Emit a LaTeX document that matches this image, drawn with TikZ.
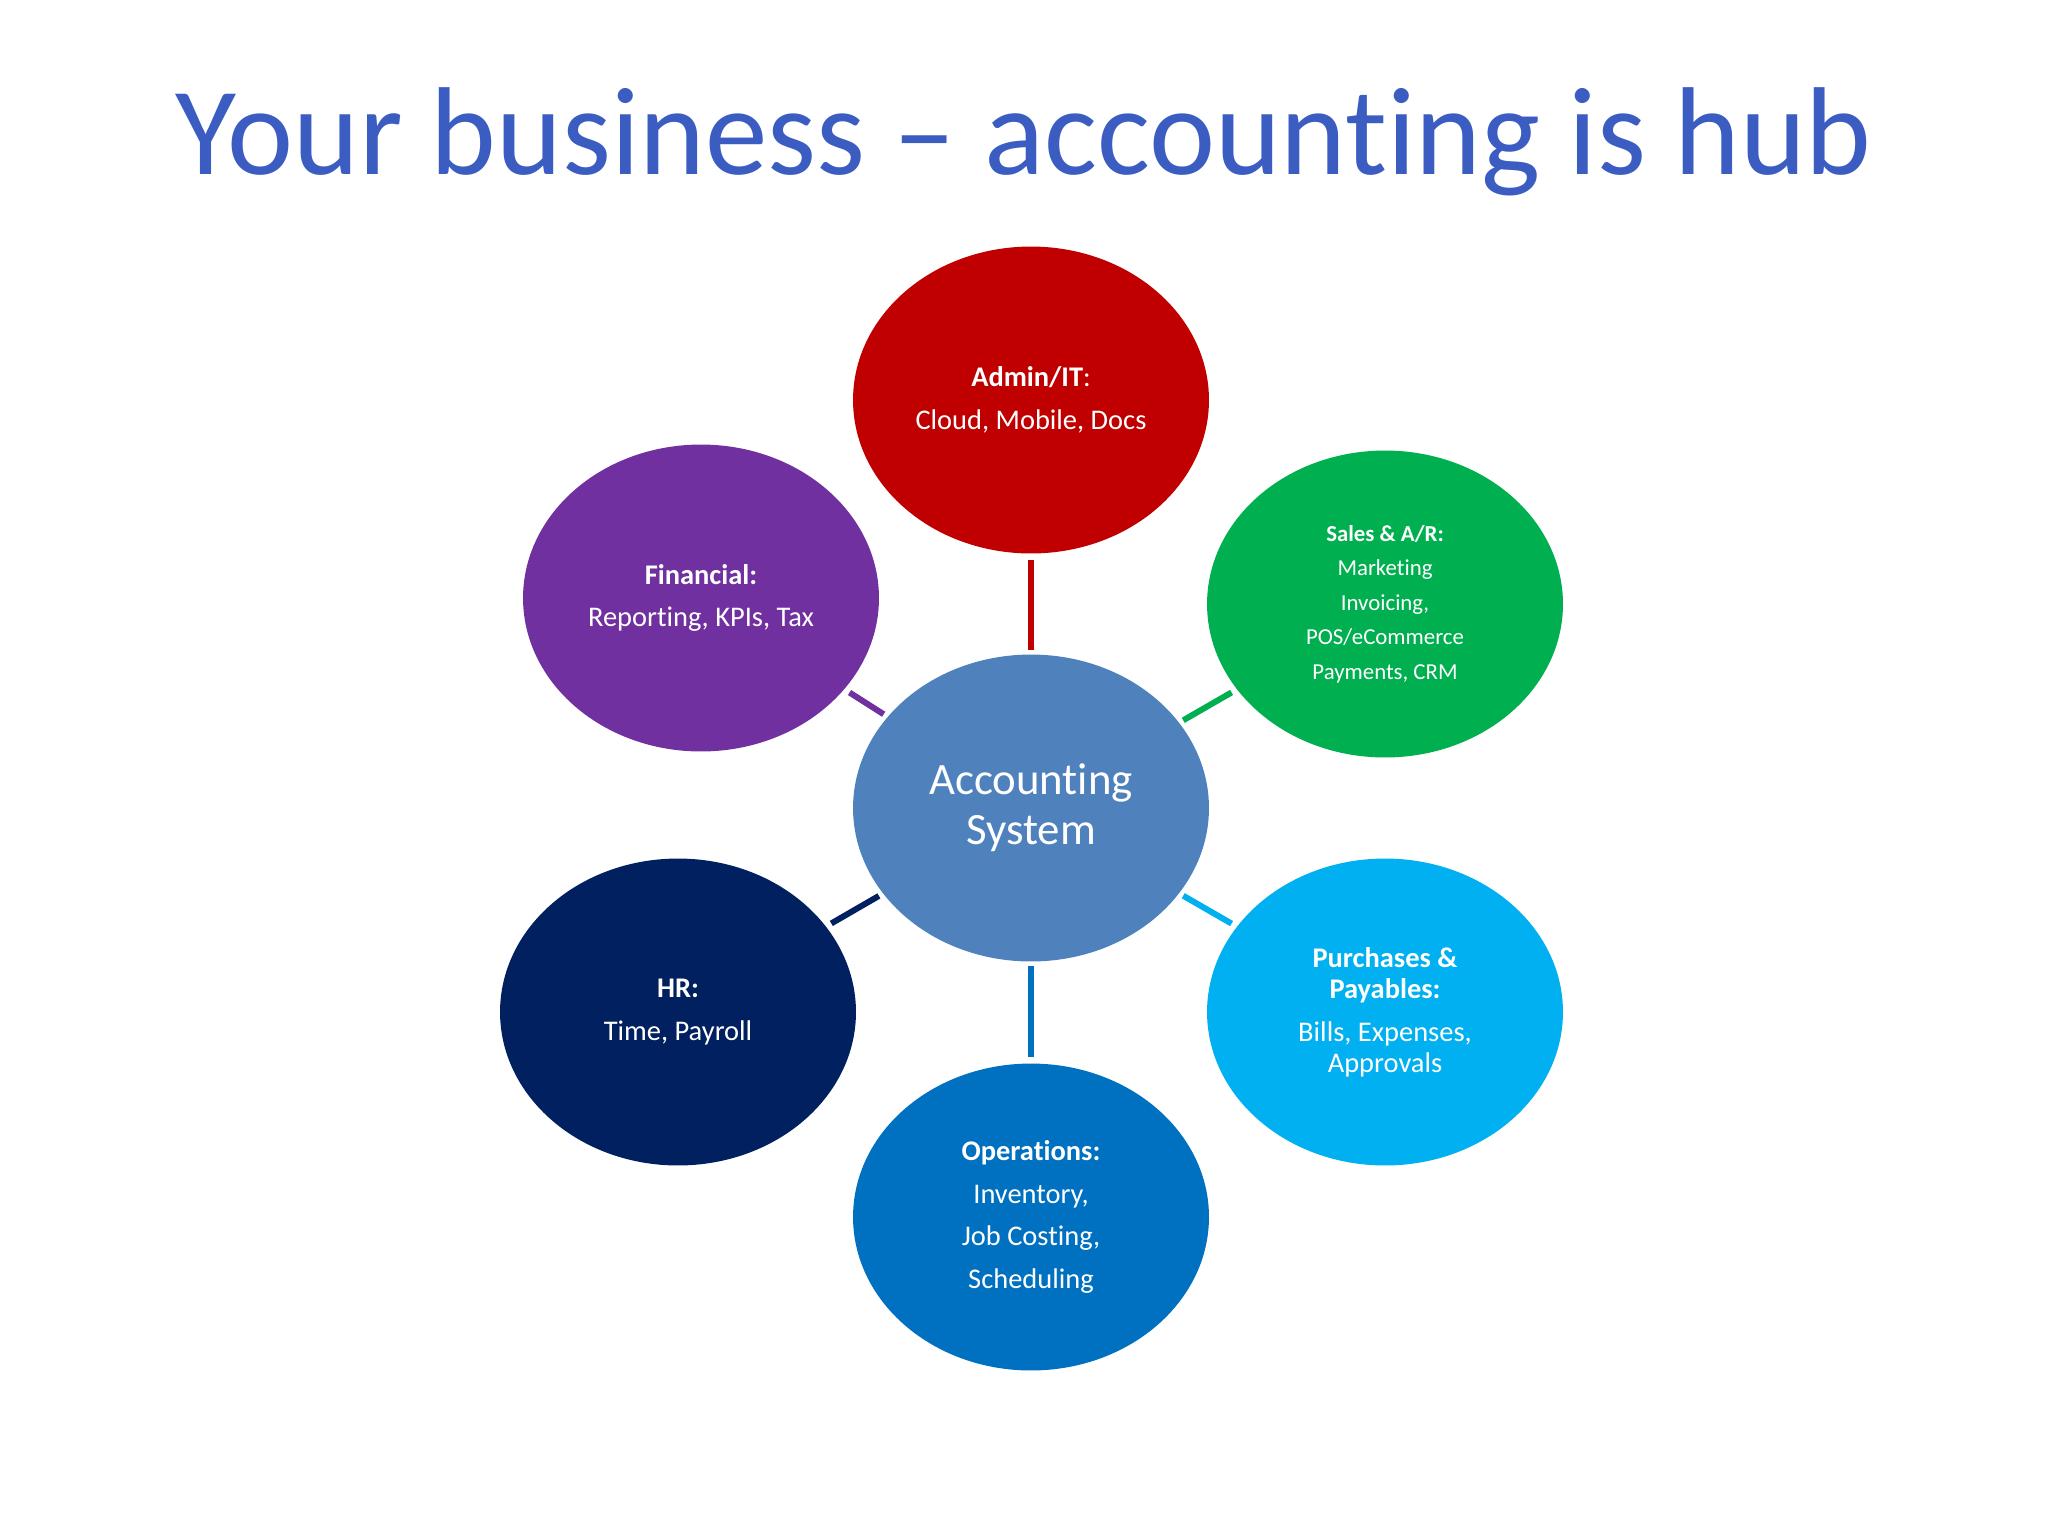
\documentclass[tikz,border=0pt]{standalone}
\usepackage{fontspec}
\setmainfont{Carlito}[Ligatures={TeX,NoCommon}]
\usetikzlibrary{shapes.geometric}
\definecolor{titleblue}{RGB}{59,93,194}
\definecolor{adminred}{RGB}{192,0,0}
\definecolor{salesgreen}{RGB}{0,176,80}
\definecolor{purchcyan}{RGB}{0,176,240}
\definecolor{opsblue}{RGB}{0,112,192}
\definecolor{hrnavy}{RGB}{0,32,96}
\definecolor{finpurple}{RGB}{112,48,160}
\definecolor{hubblue}{RGB}{79,129,189}

\begin{document}
\begin{tikzpicture}[x=0.02cm,y=-0.02cm,
  bubble/.style={ellipse, minimum width=7.12cm, minimum height=6.14cm, inner sep=0pt,
    text=white, align=center, font=\fontsize{16.2}{24.4}\selectfont},
  link/.style={line width=3.4pt, shorten <=3.4pt, shorten >=2.6pt}]

\useasboundingbox (0,0) rectangle (2048,1536);

\node[anchor=base, text=titleblue, font=\fontsize{71.2}{80}\selectfont] (title) at (1024,174)
  {Your business – accounting is hub};

% hub
\node[bubble, fill=hubblue, font=\fontsize{25.5}{28.3}\selectfont] (hub) at (1031,808) {Accounting\\System};

% satellites
\node[bubble, fill=adminred] (admin) at (1031,400) {\textbf{Admin/IT}:\\Cloud, Mobile, Docs};
\node[bubble, fill=salesgreen, font=\fontsize{13}{19.6}\selectfont] (sales) at (1385,604)
  {\textbf{Sales \& A/R:}\\Marketing\\Invoicing,\\POS/eCommerce\\Payments, CRM};
\node[bubble, fill=purchcyan, font=\fontsize{16.2}{17.6}\selectfont] (purch) at (1385,1012)
  {\textbf{Purchases \&}\\\textbf{Payables:}\\[6.8pt]Bills, Expenses,\\Approvals};
\node[bubble, fill=opsblue] (ops) at (1031,1217) {\textbf{Operations:}\\Inventory,\\Job Costing,\\Scheduling};
\node[bubble, fill=hrnavy] (hr) at (678,1012) {\textbf{HR:}\\Time, Payroll};
\node[bubble, fill=finpurple] (fin) at (701,598) {\textbf{Financial:}\\Reporting, KPIs, Tax};

\foreach \n/\c in {admin/adminred, sales/salesgreen, purch/purchcyan, ops/opsblue, hr/hrnavy, fin/finpurple}
  \draw[link, \c] (\n) -- (hub);

\end{tikzpicture}
\end{document}
